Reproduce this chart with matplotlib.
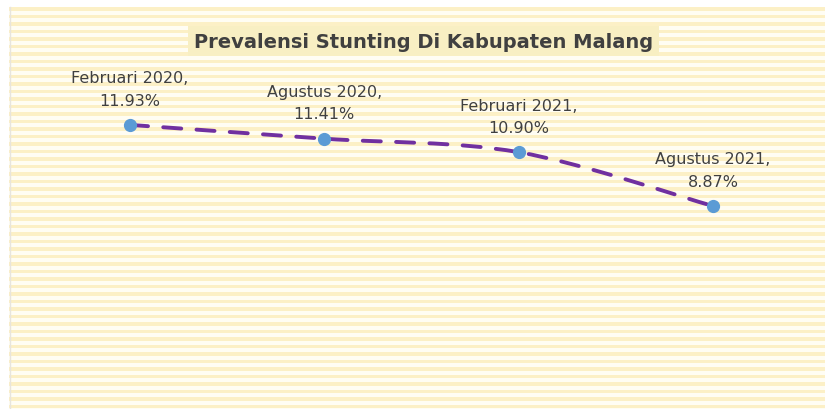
import numpy as np
import matplotlib
matplotlib.use("Agg")
import matplotlib.pyplot as plt
from matplotlib.path import Path
from matplotlib.patches import PathPatch

# Data
periods = ["Februari 2020", "Agustus 2020", "Februari 2021", "Agustus 2021"]
prevalence = [11.93, 11.41, 10.90, 8.87]
title = "Prevalensi Stunting Di Kabupaten Malang"

plt.rcParams["lines.scale_dashes"] = False

W, H = 825, 410
fig = plt.figure(figsize=(W / 100, H / 100), dpi=100)
fig.patch.set_facecolor("white")

# Striped background (pixel coordinates)
bg = fig.add_axes([0, 0, 1, 1], zorder=0)
bg.set_xlim(0, W)
bg.set_ylim(H, 0)
bg.axis("off")
bg.fill_between([9, W], 8, H, color="#fffdf3", lw=0)
for y in np.arange(8, H, 7.5):
    bg.fill_between([9, W], y, y + 3.8, color="#fcf0c6", lw=0)
bg.plot([9.5, 9.5], [8, H], color="#e8e5dc", lw=1)

# Title box
bg.text(W / 2 + 11, 42, title, ha="center", va="center", fontsize=14,
        fontweight="bold", color="#404040",
        bbox=dict(boxstyle="square,pad=0.3", facecolor="#f8efc3",
                  edgecolor="none"))

# Main axes
ax = fig.add_axes([0, 0, 1, 1], zorder=1)
ax.patch.set_alpha(0)
ax.axis("off")
x = np.arange(len(prevalence))
ax.set_xlim(-0.669, 3.577)
ax.set_ylim(1.21, 16.68)

# Smoothed line (Catmull-Rom style bezier)
pts = np.column_stack([x, prevalence]).astype(float)
ext = np.vstack([pts[0], pts, pts[-1]])
verts = [tuple(pts[0])]
codes = [Path.MOVETO]
for i in range(len(pts) - 1):
    p0, p1, p2, p3 = ext[i], ext[i + 1], ext[i + 2], ext[i + 3]
    c1 = p1 + (p2 - p0) / 6
    c2 = p2 - (p3 - p1) / 6
    verts += [tuple(c1), tuple(c2), tuple(p2)]
    codes += [Path.CURVE4] * 3
ax.add_patch(PathPatch(Path(verts, codes), facecolor="none", edgecolor="#7030a0",
                       lw=2.8, linestyle=(0, (13, 11)), capstyle="round"))

ax.plot(x, prevalence, "o", color="#5b9bd5", markersize=8.5, zorder=3)

for xi, yi, lab in zip(x, prevalence, periods):
    ax.annotate(f"{lab},\n{yi:.2f}%", (xi, yi), xytext=(0, 12.5),
                textcoords="offset points", ha="center", va="bottom",
                fontsize=11.5, color="#404040", linespacing=1.6)

fig.savefig("out.png", dpi=100)
